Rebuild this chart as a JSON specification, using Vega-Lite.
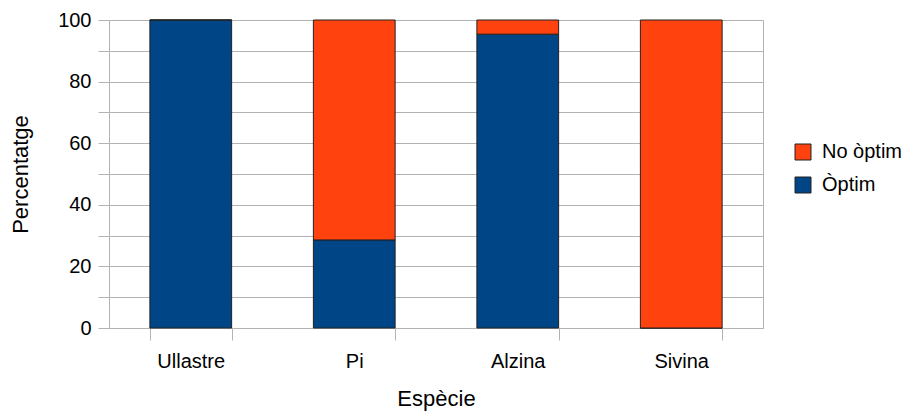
{
  "$schema": "https://vega.github.io/schema/vega-lite/v6.json",
  "autosize": {"type": "none"},
  "width": 654,
  "height": 308,
  "padding": {"left": 109, "top": 20, "right": 139, "bottom": 84},
  "background": "white",
  "data": {
    "values": [
      {"especie": "Ullastre", "estat": "Òptim", "percentatge": 100},
      {"especie": "Ullastre", "estat": "No òptim", "percentatge": 0},
      {"especie": "Pi", "estat": "Òptim", "percentatge": 28.6},
      {"especie": "Pi", "estat": "No òptim", "percentatge": 71.4},
      {"especie": "Alzina", "estat": "Òptim", "percentatge": 95.4},
      {"especie": "Alzina", "estat": "No òptim", "percentatge": 4.6},
      {"especie": "Sivina", "estat": "Òptim", "percentatge": 0},
      {"especie": "Sivina", "estat": "No òptim", "percentatge": 100}
    ]
  },
  "mark": {"type": "bar", "stroke": "#222222", "strokeWidth": 1},
  "encoding": {
    "x": {
      "field": "especie",
      "type": "nominal",
      "sort": ["Ullastre", "Pi", "Alzina", "Sivina"],
      "title": "Espècie",
      "scale": {"paddingInner": 0.5, "paddingOuter": 0.25},
      "axis": {
        "labelAngle": 0,
        "tickBand": "extent",
        "tickSize": 12,
        "labelPadding": 11,
        "titlePadding": 17,
        "grid": false
      }
    },
    "y": {
      "field": "percentatge",
      "type": "quantitative",
      "stack": "zero",
      "title": "Percentatge",
      "scale": {"domain": [0, 100], "nice": false},
      "axis": {
        "values": [0, 10, 20, 30, 40, 50, 60, 70, 80, 90, 100],
        "labelExpr": "datum.value % 20 === 0 ? datum.label : ''",
        "tickSize": 11,
        "labelPadding": 7,
        "titlePadding": 25,
        "grid": true
      }
    },
    "color": {
      "field": "estat",
      "type": "nominal",
      "scale": {"domain": ["No òptim", "Òptim"], "range": ["#ff420e", "#004586"]},
      "legend": {
        "title": null,
        "orient": "none",
        "legendX": 684,
        "legendY": 122,
        "symbolType": "square",
        "symbolSize": 256,
        "symbolStrokeColor": "#222222",
        "symbolStrokeWidth": 1,
        "labelOffset": 9,
        "rowPadding": 13
      }
    },
    "order": {"field": "estat", "sort": "descending"}
  },
  "config": {
    "font": "Liberation Sans",
    "view": {"stroke": "#b3b3b3", "strokeWidth": 1},
    "axis": {
      "domainColor": "#b3b3b3",
      "tickColor": "#b3b3b3",
      "gridColor": "#b3b3b3",
      "gridOpacity": 1,
      "labelFont": "Liberation Sans",
      "labelFontSize": 20,
      "labelColor": "#000000",
      "titleFont": "Liberation Sans",
      "titleFontSize": 22,
      "titleFontWeight": "normal",
      "titleColor": "#000000"
    },
    "legend": {
      "labelFont": "Liberation Sans",
      "labelFontSize": 20,
      "labelColor": "#000000",
      "symbolOpacity": 1
    }
  }
}
